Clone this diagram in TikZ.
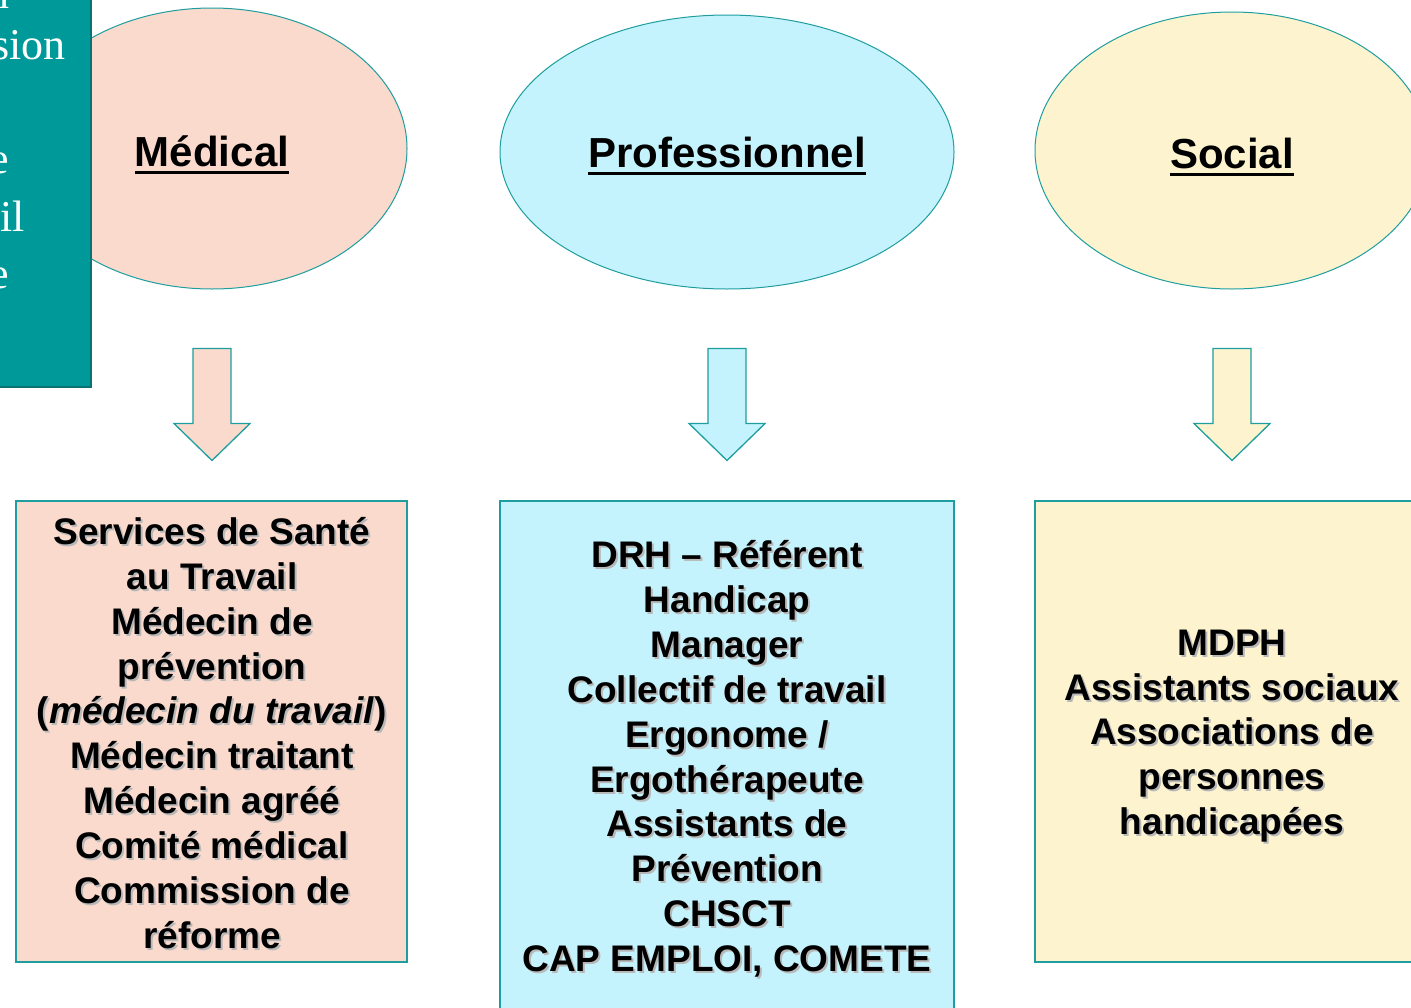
\documentclass[tikz,border=0pt]{standalone}
\usepackage{fontspec}
\setmainfont{Liberation Sans}
\newfontfamily\serifw{Liberation Serif}
\usetikzlibrary{shapes.geometric,calc}
\definecolor{peach}{HTML}{FBDACE}
\definecolor{cyanl}{HTML}{C5F3FD}
\definecolor{yell}{HTML}{FDF4CF}
\definecolor{tealb}{HTML}{1E9E9E}
\definecolor{tealbox}{HTML}{009999}
\definecolor{tealdark}{HTML}{0A7272}
\newcommand\medtxt{Services de Santé\\au Travail\\Médecin de\\prévention\\(\textit{médecin du travail})\\Médecin traitant\\Médecin agréé\\Comité médical\\Commission de\\réforme}
\newcommand\protxt{DRH – Référent\\Handicap\\Manager\\Collectif de travail\\Ergonome /\\Ergothérapeute\\Assistants de\\Prévention\\CHSCT\\CAP EMPLOI, COMETE}
\newcommand\soctxt{MDPH\\Assistants sociaux\\Associations de\\personnes\\handicapées}
\tikzset{
  oval/.style={ellipse, draw=tealb, line width=1pt, inner sep=0pt},
  listbox/.style={rectangle, draw=tealb, line width=1.3pt, inner sep=0pt},
  title/.style={inner sep=0pt, font=\fontsize{42}{48}\selectfont\bfseries},
  boxtext/.style={inner sep=0pt, align=center, font=\fontsize{37}{44.85}\selectfont\bfseries},
  shadowtext/.style={boxtext, text=black!28},
  frag/.style={inner sep=0pt, anchor=base east, text=white, font=\serifw\fontsize{44}{50}\selectfont},
  downarrow/.pic={\draw[draw=tealb, line width=1.3pt, fill=#1, line join=miter]
     (-19,0) -- (19,0) -- (19,75) -- (38,75) -- (0,112) -- (-38,75) -- (-19,75) -- cycle;}
}
\begin{document}
\begin{tikzpicture}[x=1pt,y=-1pt]
\useasboundingbox (0,0) rectangle (1411,1007);
\fill[white] (0,0) rectangle (1411,1007);
% ellipses
\node[oval, fill=peach, minimum width=390pt, minimum height=281pt] (m) at (212,148.5) {};
\node[oval, fill=cyanl, minimum width=454pt, minimum height=274pt] (p) at (727,152) {};
\node[oval, fill=yell, minimum width=394pt, minimum height=277pt] (s) at (1232,150.5) {};
% left teal box (cut off), lying over the first ellipse
\node[rectangle, fill=tealbox, draw=tealdark, line width=1.5pt, minimum width=111pt, minimum height=407pt, inner sep=0pt] (tb) at (35.5,183.5) {};
\begin{scope}
\clip (0,0) rectangle (90,386);
\node[frag] (f0) at (10,8) {n};
\node[frag] (f1) at (66,59) {sion};
\node[frag] (f2) at (9,173) {e};
\node[frag] (f3) at (25,231) {il};
\node[frag] (f4) at (9,288) {e};
\end{scope}
% titles
\node[title, anchor=base] (mt) at (212,166) {Médical};
\node[title, anchor=base] (pt) at (727,167) {Professionnel};
\node[title, anchor=base] (st) at (1232,168) {Social};
\foreach \t in {mt,pt,st}
  \draw[line width=3pt] ($(\t.base west)+(0,6.5)$) -- ($(\t.base east)+(0,6.5)$);
% arrows
\pic at ($(m.south)+(0,59)$) {downarrow=peach};
\pic at ($(p.south)+(0,59)$) {downarrow=cyanl};
\pic at ($(s.south)+(0,59)$) {downarrow=yell};
% boxes
\node[listbox, fill=peach, minimum width=391pt, minimum height=461pt] (mb) at (211.5,731.5) {};
\node[listbox, fill=cyanl, minimum width=454pt, minimum height=530pt] (pb) at (727,766) {};
\node[listbox, fill=yell, minimum width=395pt, minimum height=461pt] (sb) at (1232.5,731.5) {};
% box texts with shadow
\node[shadowtext] at (214,735) {\medtxt};
\node[boxtext] (mtx) at (212,733) {\medtxt};
\node[shadowtext] at (729,761) {\protxt};
\node[boxtext] (ptx) at (727,759) {\protxt};
\node[shadowtext] at (1234,738) {\soctxt};
\node[boxtext] (stx) at (1232,736) {\soctxt};
\end{tikzpicture}
\end{document}
